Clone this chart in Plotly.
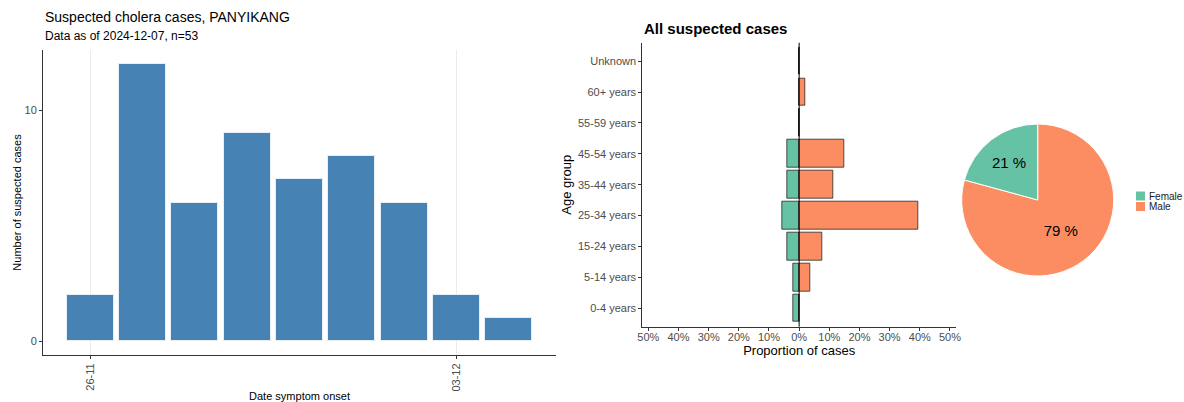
import pandas as pd
import plotly.graph_objects as go

# ---- data ----
onset_dates = ["2024-11-26", "2024-11-27", "2024-11-28", "2024-11-29", "2024-11-30",
               "2024-12-01", "2024-12-02", "2024-12-03", "2024-12-04"]
onset_counts = [2, 12, 6, 9, 7, 8, 6, 2, 1]
date_ticks = ["2024-11-26", "2024-12-03"]
date_tick_labels = ["26-11", "03-12"]

age_groups = ["0-4 years", "5-14 years", "15-24 years", "25-34 years", "35-44 years",
              "45-54 years", "55-59 years", "60+ years", "Unknown"]
female_counts = [1, 1, 2, 3, 2, 2, 0, 0, 0]
male_counts = [0, 2, 4, 21, 6, 8, 0, 1, 0]
prop_ticks = [-0.5, -0.4, -0.3, -0.2, -0.1, 0, 0.1, 0.2, 0.3, 0.4, 0.5]
prop_tick_labels = ["50%", "40%", "30%", "20%", "10%", "0%", "10%", "20%", "30%", "40%", "50%"]

sex_labels = ["Female", "Male"]
sex_counts = [11, 42]

# ---- styles ----
FONT = "Liberation Sans, Arial, Helvetica, sans-serif"
GREY = "#4D4D4D"
AXIS = "#333333"
FEMALE_C = "#66C2A5"
MALE_C = "#FC8D62"
BLUE = "#4682B4"
W, H = 1184, 402
sex_colors = [FEMALE_C, MALE_C]

total = sum(female_counts) + sum(male_counts)
female_prop = [-c / total for c in female_counts]
male_prop = [c / total for c in male_counts]

fig = go.Figure()

# epicurve
day_ms = 86400000
fig.add_trace(go.Bar(
    x=onset_dates, y=onset_counts, width=[0.9 * day_ms] * len(onset_dates),
    marker=dict(color=BLUE, line=dict(color="#E6EEF6", width=1)),
    xaxis="x", yaxis="y", showlegend=False,
))

# age pyramid
fig.add_trace(go.Bar(
    y=age_groups, x=female_prop, orientation="h", width=0.9, name="Female",
    marker=dict(color=FEMALE_C, line=dict(color="rgba(30,30,30,0.75)", width=1)),
    xaxis="x2", yaxis="y2", showlegend=False,
))
fig.add_trace(go.Bar(
    y=age_groups, x=male_prop, orientation="h", width=0.9, name="Male",
    marker=dict(color=MALE_C, line=dict(color="rgba(30,30,30,0.75)", width=1)),
    xaxis="x2", yaxis="y2", showlegend=False,
))

# pie (drawn Male first clockwise so Female sits left of 12 o'clock)
stotal = sum(sex_counts)
pie_text = [f"{round(v / stotal * 100)} %" for v in sex_counts]
fig.add_trace(go.Pie(
    labels=sex_labels[::-1], values=sex_counts[::-1], text=pie_text[::-1],
    textinfo="text", textposition="inside", insidetextorientation="horizontal",
    textfont=dict(family=FONT, size=15, color="black"),
    marker=dict(colors=sex_colors[::-1], line=dict(color="white", width=1)),
    sort=False, direction="clockwise", rotation=0,
    domain=dict(x=[961.7 / W, 1113.7 / W], y=[(H - 276) / H, (H - 124) / H]),
    showlegend=False, hoverinfo="label+percent",
))

start = pd.Timestamp(onset_dates[0]) - pd.Timedelta(hours=0.9 * 24)
end = pd.Timestamp(onset_dates[-1]) + pd.Timedelta(hours=0.9 * 24)

axis_common = dict(showline=True, linecolor=AXIS, linewidth=1, ticks="outside",
                   ticklen=3, tickcolor=AXIS, zeroline=False, automargin=False,
                   tickfont=dict(family=FONT, size=11, color=GREY))

# manual legend for pie
legend_shapes = []
legend_annots = []
for i, (lab, col) in enumerate(zip(sex_labels, sex_colors)):
    yc = 196 + i * 10.5
    legend_shapes.append(dict(type="rect", xref="paper", yref="paper",
                              x0=1136 / W, x1=1145 / W, y0=(H - yc - 4.5) / H, y1=(H - yc + 4.5) / H,
                              fillcolor=col, line=dict(width=0)))
    legend_annots.append(dict(text=lab, xref="paper", yref="paper", x=1147 / W, y=(H - yc) / H,
                              xanchor="left", yanchor="middle", showarrow=False,
                              font=dict(family=FONT, size=10, color="#1A1A1A")))

fig.update_layout(
    template="none",
    width=W, height=H,
    margin=dict(l=0, r=0, t=0, b=0, autoexpand=False),
    paper_bgcolor="white", plot_bgcolor="white",
    barmode="overlay", bargap=0, showlegend=False,
    font=dict(family=FONT, color="black"),
    xaxis=dict(domain=[43 / W, 556 / W], type="date", range=[start, end],
               tickvals=date_ticks, ticktext=date_tick_labels, tickangle=-90,
               showgrid=True, gridcolor="#EBEBEB", gridwidth=1,
               title=dict(text="Date symptom onset", font=dict(family=FONT, size=11, color="black"), standoff=4),
               anchor="y", **axis_common),
    yaxis=dict(domain=[(H - 355) / H, (H - 50) / H], range=[-0.6, 12.6], tickvals=[0, 10],
               showgrid=False,
               title=dict(text="Number of suspected cases", font=dict(family=FONT, size=11, color="black"), standoff=0),
               anchor="x", **axis_common),
    xaxis2=dict(domain=[642.3 / W, 956 / W], range=[-0.52, 0.52], tickvals=prop_ticks,
                ticktext=prop_tick_labels, showgrid=False, ticklabelstandoff=-3,
                title=dict(text="Proportion of cases", font=dict(family=FONT, size=13, color="black"), standoff=0),
                anchor="y2", **axis_common),
    yaxis2=dict(domain=[(H - 326.7) / H, (H - 42.7) / H], type="category", categoryorder="array",
                categoryarray=age_groups, range=[-0.6, 8.6], showgrid=False,
                title=dict(text="Age group", font=dict(family=FONT, size=13, color="black"), standoff=3),
                anchor="x2", **axis_common),
    shapes=[dict(type="line", xref="x2", yref="y2 domain", x0=0, x1=0, y0=0, y1=1,
                 line=dict(color="black", width=1))] + legend_shapes,
    annotations=[
        dict(text="Suspected cholera cases, PANYIKANG", xref="paper", yref="paper",
             x=43 / W, y=1 - 17 / H, xanchor="left", yanchor="middle", showarrow=False,
             font=dict(family=FONT, size=14, color="black")),
        dict(text="Data as of 2024-12-07, n=53", xref="paper", yref="paper",
             x=43 / W, y=1 - 36 / H, xanchor="left", yanchor="middle", showarrow=False,
             font=dict(family=FONT, size=12, color="black")),
        dict(text="<b>All suspected cases</b>", xref="paper", yref="paper",
             x=642 / W, y=1 - 28 / H, xanchor="left", yanchor="middle", showarrow=False,
             font=dict(family=FONT, size=15, color="black")),
    ] + legend_annots,
)

fig.write_html("out.html", config={"displayModeBar": False},
               post_script="document.body.style.margin='0';document.body.style.overflow='hidden';")
